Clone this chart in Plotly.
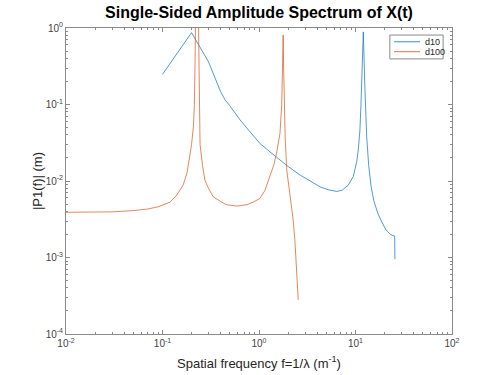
import plotly.graph_objects as go

# d10 series (frequency, amplitude)
d10_f = [0.1, 0.2, 0.3, 0.4, 0.445, 0.5, 0.635, 0.8, 1.02, 1.3, 1.65, 2.0, 2.66, 3.4, 4.29, 5.2, 6.4,
         7.3, 8.4, 9.5, 10.3, 10.7, 11.1, 11.4, 11.76, 12.05, 12.5, 13.06, 13.7, 14.5, 15.5,
         17.0, 18.5, 20.7, 23.0, 25.5, 25.6]
d10_y = [0.248, 0.87, 0.36, 0.147, 0.115, 0.096, 0.063, 0.044, 0.031, 0.024, 0.0188, 0.0155, 0.012, 0.0099, 0.0084, 0.0077, 0.0073,
         0.0076, 0.0088, 0.0115, 0.018, 0.026, 0.045, 0.1, 0.28, 0.89, 0.17, 0.038, 0.016, 0.0085, 0.0055,
         0.0038, 0.003, 0.0023, 0.002, 0.0019, 0.00095]

# d100 series (frequency, amplitude)
d100_f = [0.01, 0.02, 0.03, 0.05, 0.07, 0.09, 0.12, 0.14, 0.164, 0.18, 0.193, 0.2, 0.209, 0.214,
          0.217, 0.219, 0.226, 0.236, 0.238, 0.241, 0.245, 0.26, 0.275, 0.3, 0.336, 0.4, 0.46, 0.59,
          0.75, 0.87, 1.02, 1.15, 1.3, 1.42, 1.52, 1.65, 1.72, 1.76, 1.78, 1.80, 1.83, 1.87, 1.94,
          2.05, 2.13, 2.26, 2.36, 2.44, 2.50, 2.55]
d100_y = [0.0039, 0.0039, 0.00395, 0.0041, 0.0043, 0.0046, 0.0053, 0.0065, 0.0089, 0.013, 0.021, 0.03, 0.051, 0.1,
          0.3, 1.2, 20.0, 1.2, 0.3, 0.06, 0.03, 0.016, 0.0103, 0.008, 0.0062, 0.0054, 0.0049, 0.0047,
          0.0049, 0.0053, 0.0059, 0.0075, 0.0114, 0.016, 0.023, 0.042, 0.1, 0.3, 0.81, 0.3, 0.08, 0.035, 0.0139,
          0.0085, 0.0057, 0.0031, 0.0016, 0.00076, 0.00047, 0.00028]

x_ticks = [0.01, 0.1, 1, 10, 100]
x_tick_text = ["10<sup>-2</sup>", "10<sup>-1</sup>", "10<sup>0</sup>", "10<sup>1</sup>", "10<sup>2</sup>"]
y_ticks = [0.0001, 0.001, 0.01, 0.1, 1]
y_tick_text = ["10<sup>-4</sup>", "10<sup>-3</sup>", "10<sup>-2</sup>", "10<sup>-1</sup>", "10<sup>0</sup>"]

x_minor = [m * 10.0 ** e for e in range(-2, 2) for m in range(2, 10)]
y_minor = [m * 10.0 ** e for e in range(-4, 0) for m in range(2, 10)]

series_names = ["d10", "d100"]
series_colors = ["#0072BD", "#D95319"]

FONT = "Liberation Sans, Arial, Helvetica, sans-serif"
AX = "#8a8a8a"

fig = go.Figure()
fig.add_trace(go.Scatter(x=d10_f, y=d10_y, mode="lines", name=series_names[0],
                         line=dict(color=series_colors[0], width=0.7)))
fig.add_trace(go.Scatter(x=d100_f, y=d100_y, mode="lines", name=series_names[1],
                         line=dict(color=series_colors[1], width=0.7)))

axis_common = dict(
    type="log", showgrid=False, zeroline=False, automargin=False,
    showline=True, linecolor=AX, linewidth=1, mirror="allticks",
    ticks="inside", ticklen=4, tickcolor=AX,
    tickfont=dict(family=FONT, size=10, color="#444444"),
)

fig.update_xaxes(range=[-2, 2], tickmode="array", tickvals=x_ticks, ticktext=x_tick_text, **axis_common,
                 minor=dict(tickmode="array", tickvals=x_minor, ticks="inside", ticklen=2,
                            tickcolor=AX, showgrid=False),
                 title=dict(text="Spatial frequency f=1/λ (m<sup>-1</sup>)",
                            font=dict(family=FONT, size=13, color="#262626"), standoff=10))
fig.update_yaxes(range=[-4, 0], tickmode="array", tickvals=y_ticks, ticktext=y_tick_text, **axis_common,
                 minor=dict(tickmode="array", tickvals=y_minor, ticks="inside", ticklen=2,
                            tickcolor=AX, showgrid=False),
                 title=dict(text="|P1(f)| (m)",
                            font=dict(family=FONT, size=13, color="#262626"), standoff=0))

# legend drawn in the MATLAB style (compact box, top right)
shapes = [dict(type="rect", xref="paper", yref="paper", x0=0.839, x1=0.977, y0=0.899, y1=0.977,
               line=dict(color=AX, width=1), fillcolor="white", layer="above")]
annotations = []
for i, (nm, col) in enumerate(zip(series_names, series_colors)):
    yy = 0.955 - i * 0.0325
    shapes.append(dict(type="line", xref="paper", yref="paper", x0=0.850, x1=0.917, y0=yy, y1=yy,
                       line=dict(color=col, width=0.8), layer="above"))
    annotations.append(dict(text=nm, xref="paper", yref="paper", x=0.924, y=yy, xanchor="left",
                            yanchor="middle", showarrow=False,
                            font=dict(family=FONT, size=9, color="#262626")))

fig.update_layout(
    width=500, height=375,
    margin=dict(l=66, r=48, t=28, b=41, autoexpand=False),
    paper_bgcolor="white", plot_bgcolor="white",
    title=dict(text="<b>Single-Sided Amplitude Spectrum of X(t)</b>",
               font=dict(family=FONT, size=16, color="black"),
               x=0.5, xref="paper", xanchor="center", y=0.966, yanchor="middle"),
    showlegend=False,
    shapes=shapes,
    annotations=annotations,
)

fig.write_html("out.html", config={"displayModeBar": False},
               post_script="document.body.style.margin='0';document.body.style.overflow='hidden';")
